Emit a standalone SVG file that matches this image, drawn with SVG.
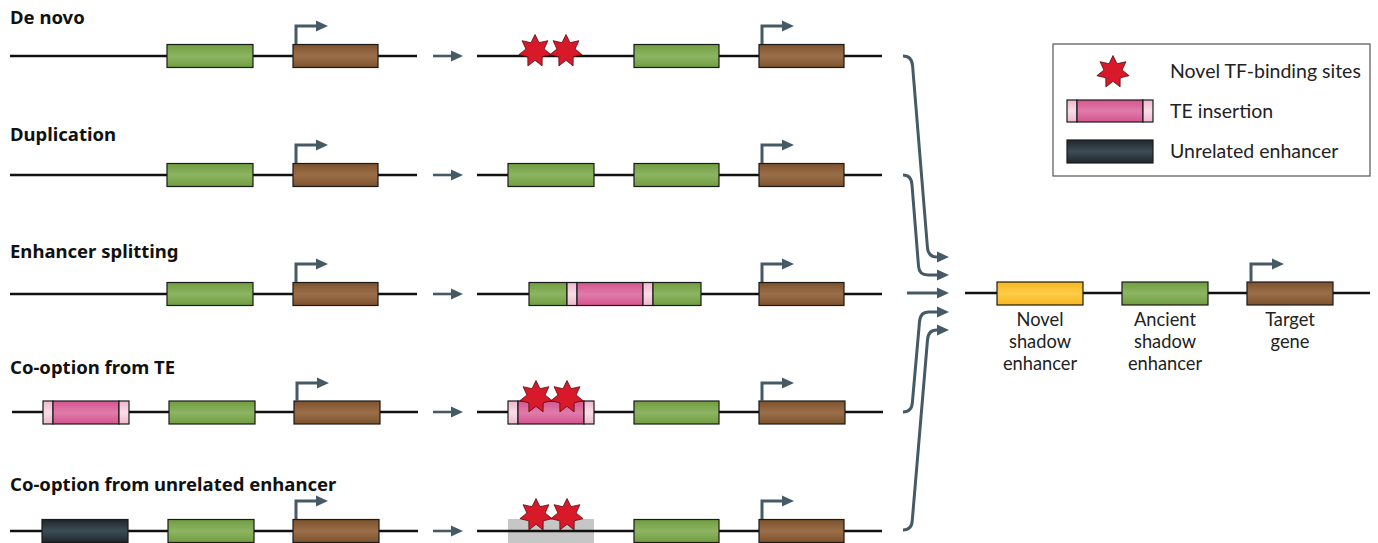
<svg xmlns="http://www.w3.org/2000/svg" width="1378" height="543" viewBox="0 0 1378 543">
<defs>
<linearGradient id="gGreen" x1="0" y1="0" x2="0" y2="1"><stop offset="0" stop-color="#6f9e3e"/><stop offset="0.5" stop-color="#8db463"/><stop offset="1" stop-color="#6f9e3e"/></linearGradient>
<linearGradient id="gBrown" x1="0" y1="0" x2="0" y2="1"><stop offset="0" stop-color="#7c522c"/><stop offset="0.5" stop-color="#9a6e48"/><stop offset="1" stop-color="#7c522c"/></linearGradient>
<linearGradient id="gPink" x1="0" y1="0" x2="0" y2="1"><stop offset="0" stop-color="#d5558f"/><stop offset="0.5" stop-color="#e07ba9"/><stop offset="1" stop-color="#d5558f"/></linearGradient>
<linearGradient id="gLight" x1="0" y1="0" x2="0" y2="1"><stop offset="0" stop-color="#eeb7cd"/><stop offset="0.5" stop-color="#f8dde7"/><stop offset="1" stop-color="#eeb7cd"/></linearGradient>
<linearGradient id="gDark" x1="0" y1="0" x2="0" y2="1"><stop offset="0" stop-color="#1e272c"/><stop offset="0.5" stop-color="#3d4d56"/><stop offset="1" stop-color="#1e272c"/></linearGradient>
<linearGradient id="gYellow" x1="0" y1="0" x2="0" y2="1"><stop offset="0" stop-color="#f9b81c"/><stop offset="0.5" stop-color="#fdca4a"/><stop offset="1" stop-color="#f9b81c"/></linearGradient>
<marker id="ah" markerUnits="userSpaceOnUse" markerWidth="12" markerHeight="12" refX="0" refY="5" orient="auto" viewBox="0 0 10 10">
<path d="M0,0.5 L10,5 L0,9.5 z" fill="#465a66"/>
</marker>
<polygon id="star" points="0,-16.5 4,-8.3 12.9,-10.3 9.1,-2 16.1,3.7 7.2,5.8 7.1,14.9 0,9.3 -7.1,14.9 -7.2,5.8 -16.1,3.7 -9.1,-2 -12.9,-10.3 -4,-8.3"/>
</defs>
<style>
.dna{stroke:#111;stroke-width:2.6;fill:none}
.box{stroke:#1a1a1a;stroke-width:1.2}
.green{fill:url(#gGreen)}
.brown{fill:url(#gBrown)}
.pink{fill:url(#gPink)}
.light{fill:url(#gLight)}
.dark{fill:url(#gDark)}
.yellow{fill:url(#gYellow)}
.prom{stroke:#465a66;stroke-width:3;fill:none;marker-end:url(#ah)}
.arr{stroke:#465a66;stroke-width:2.6;fill:none;marker-end:url(#ah)}
.conn{stroke:#465a66;stroke-width:3;fill:none;marker-end:url(#ah)}
.st{fill:#d7192a;stroke:#5a0a10;stroke-width:0.8}
.title{font-family:"Noto Sans","Open Sans",sans-serif;font-weight:bold;font-size:18.5px;fill:#111}
.lbl{font-family:Lato,"Noto Sans",sans-serif;font-size:18.3px;fill:#222}
.leg{font-family:Lato,"Noto Sans",sans-serif;font-size:19.5px;fill:#222}
</style>

<!-- Row 1: De novo -->
<g id="row1">
<text class="title" x="10" y="24">De novo</text>
<line class="dna" x1="10" y1="56" x2="417" y2="56"/>
<rect class="box green" x="167" y="44.5" width="86" height="23"/>
<rect class="box brown" x="293" y="44.5" width="85" height="23"/>
<path class="prom" d="M296,44 V26 H316"/>
<line class="arr" x1="433" y1="56" x2="451" y2="56"/>
<line class="dna" x1="477" y1="56" x2="882" y2="56"/>
<use href="#star" class="st" x="535" y="51"/>
<use href="#star" class="st" x="566" y="51"/>
<rect class="box green" x="634" y="44.5" width="85" height="23"/>
<rect class="box brown" x="759" y="44.5" width="85" height="23"/>
<path class="prom" d="M762,44 V26 H782"/>
</g>

<!-- Row 2: Duplication -->
<g id="row2">
<text class="title" x="10" y="141">Duplication</text>
<line class="dna" x1="10" y1="175" x2="417" y2="175"/>
<rect class="box green" x="167" y="163.5" width="86" height="23"/>
<rect class="box brown" x="293" y="163.5" width="85" height="23"/>
<path class="prom" d="M296,163 V145 H316"/>
<line class="arr" x1="433" y1="175" x2="451" y2="175"/>
<line class="dna" x1="477" y1="175" x2="882" y2="175"/>
<rect class="box green" x="508" y="163.5" width="86" height="23"/>
<rect class="box green" x="634" y="163.5" width="85" height="23"/>
<rect class="box brown" x="759" y="163.5" width="85" height="23"/>
<path class="prom" d="M762,163 V145 H782"/>
</g>

<!-- Row 3: Enhancer splitting -->
<g id="row3">
<text class="title" x="10" y="258">Enhancer splitting</text>
<line class="dna" x1="10" y1="294" x2="417" y2="294"/>
<rect class="box green" x="167" y="282.5" width="86" height="23"/>
<rect class="box brown" x="293" y="282.5" width="85" height="23"/>
<path class="prom" d="M296,282 V264 H316"/>
<line class="arr" x1="433" y1="294" x2="451" y2="294"/>
<line class="dna" x1="477" y1="294" x2="882" y2="294"/>
<rect class="box green" x="529" y="282.5" width="38" height="23"/>
<rect class="box light" x="567" y="282.5" width="10" height="23"/>
<rect class="box pink" x="577" y="282.5" width="66" height="23"/>
<rect class="box light" x="643" y="282.5" width="10" height="23"/>
<rect class="box green" x="653" y="282.5" width="48" height="23"/>
<rect class="box brown" x="759" y="282.5" width="85" height="23"/>
<path class="prom" d="M762,282 V264 H782"/>
</g>

<!-- Row 4: Co-option from TE -->
<g id="row4">
<text class="title" x="10" y="374">Co-option from TE</text>
<line class="dna" x1="12" y1="412" x2="418" y2="412"/>
<rect class="box light" x="43" y="401" width="10" height="23"/>
<rect class="box pink" x="53" y="401" width="66" height="23"/>
<rect class="box light" x="119" y="401" width="10" height="23"/>
<rect class="box green" x="169" y="401" width="86" height="23"/>
<rect class="box brown" x="294" y="401" width="86" height="23"/>
<path class="prom" d="M297,401 V383 H317"/>
<line class="arr" x1="433" y1="412" x2="451" y2="412"/>
<line class="dna" x1="477" y1="412" x2="883" y2="412"/>
<rect class="box light" x="508" y="401" width="10" height="23"/>
<rect class="box pink" x="518" y="401" width="66" height="23"/>
<rect class="box light" x="584" y="401" width="10" height="23"/>
<use href="#star" class="st" x="536" y="397"/>
<use href="#star" class="st" x="567" y="397"/>
<rect class="box green" x="634" y="401" width="85" height="23"/>
<rect class="box brown" x="759" y="401" width="86" height="23"/>
<path class="prom" d="M762,401 V383 H782"/>
</g>

<!-- Row 5: Co-option from unrelated enhancer -->
<g id="row5">
<text class="title" x="10" y="491">Co-option from unrelated enhancer</text>
<line class="dna" x1="10" y1="531" x2="418" y2="531"/>
<rect class="box dark" x="42" y="519.5" width="86" height="23"/>
<rect class="box green" x="168" y="519.5" width="86" height="23"/>
<rect class="box brown" x="293" y="519.5" width="86" height="23"/>
<path class="prom" d="M296,519 V501 H316"/>
<line class="arr" x1="433" y1="531" x2="451" y2="531"/>
<rect x="508" y="519" width="86" height="25" fill="#c6c6c6"/>
<line class="dna" x1="477" y1="531" x2="882" y2="531"/>
<use href="#star" class="st" x="536" y="515"/>
<use href="#star" class="st" x="567" y="515"/>
<rect class="box green" x="634" y="519.5" width="85" height="23"/>
<rect class="box brown" x="759" y="519.5" width="85" height="23"/>
<path class="prom" d="M762,519 V501 H782"/>
</g>

<!-- Connectors -->
<g id="connectors">
<path class="conn" d="M903,56 Q912,56 912.6,66 L927.4,247 Q928,257 937,257"/>
<path class="conn" d="M903,175 Q911.5,175 912,185 L918.5,266 Q919,275 928,275 L937,275"/>
<line class="conn" x1="907" y1="293" x2="937" y2="293"/>
<path class="conn" d="M903,412 Q912,412 912.4,402 L919.5,322 Q920,312 929,312 L937,312"/>
<path class="conn" d="M903,530 Q912,530 912.3,520 L927.5,340 Q928,330 937,330"/>
</g>

<!-- Result -->
<g id="result">
<line class="dna" x1="965" y1="293" x2="1370" y2="293"/>
<rect class="box yellow" x="997" y="282" width="86" height="23"/>
<rect class="box green" x="1122" y="282" width="86" height="23"/>
<rect class="box brown" x="1247" y="282" width="86" height="23"/>
<path class="prom" d="M1251,282 V264 H1272"/>
<text class="lbl" text-anchor="middle" x="1040" y="326">Novel</text>
<text class="lbl" text-anchor="middle" x="1040" y="348">shadow</text>
<text class="lbl" text-anchor="middle" x="1040" y="370">enhancer</text>
<text class="lbl" text-anchor="middle" x="1165" y="326">Ancient</text>
<text class="lbl" text-anchor="middle" x="1165" y="348">shadow</text>
<text class="lbl" text-anchor="middle" x="1165" y="370">enhancer</text>
<text class="lbl" text-anchor="middle" x="1290" y="326">Target</text>
<text class="lbl" text-anchor="middle" x="1290" y="348">gene</text>
</g>

<!-- Legend -->
<g id="legend">
<rect x="1053" y="44" width="317" height="132" fill="#fff" stroke="#555" stroke-width="1.2"/>
<use href="#star" class="st" x="1113" y="72"/>
<rect class="box light" x="1067" y="100" width="10" height="22"/>
<rect class="box pink" x="1077" y="100" width="66" height="22"/>
<rect class="box light" x="1143" y="100" width="10" height="22"/>
<rect class="box dark" x="1067" y="140" width="86" height="23"/>
<text class="leg" x="1170" y="78">Novel TF-binding sites</text>
<text class="leg" x="1170" y="118">TE insertion</text>
<text class="leg" x="1170" y="158">Unrelated enhancer</text>
</g>
</svg>
